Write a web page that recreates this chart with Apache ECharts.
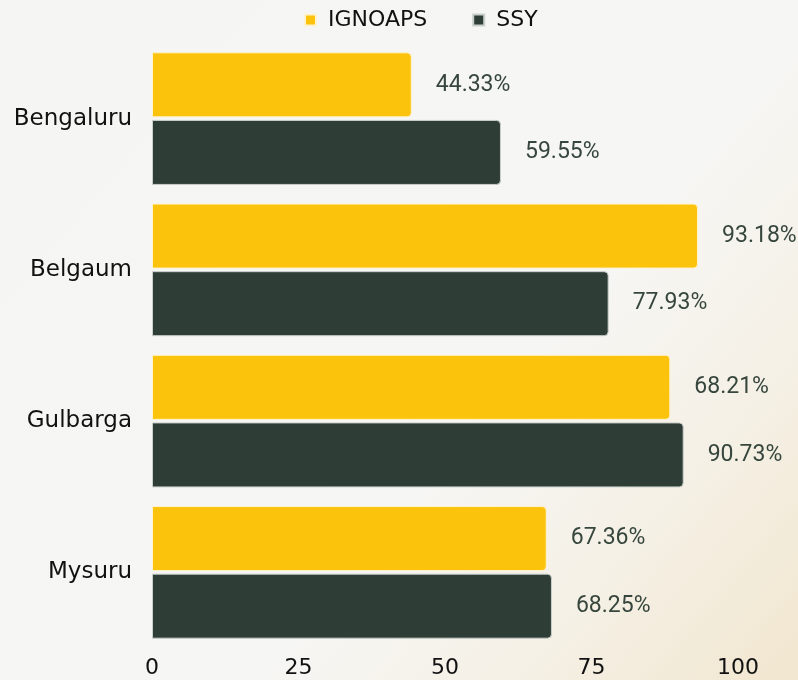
<!DOCTYPE html>
<html>
<head>
<meta charset="utf-8">
<script src="https://cdn.jsdelivr.net/npm/echarts@6/dist/echarts.min.js"></script>
<style>
  html, body { margin: 0; padding: 0; }
  #chart { width: 798px; height: 680px; }
</style>
</head>
<body>
<div id="chart"></div>
<script>
var cities = ["Bengaluru", "Belgaum", "Gulbarga", "Mysuru"];
// bar lengths as drawn in the picture
var ignoaps = [44.33, 93.18, 88.45, 67.36];
var ssy = [59.55, 77.93, 90.73, 68.25];
// value labels as printed in the picture
var ignoapsLabels = ["44.33%", "93.18%", "68.21%", "67.36%"];
var ssyLabels = ["59.55%", "77.93%", "90.73%", "68.25%"];
var xTicks = [0, 25, 50, 75, 100];

var myChart = echarts.init(document.getElementById("chart"));

function makeLabel(texts) {
  return {
    show: true,
    position: "right",
    distance: 24,
    color: "#36463d",
    fontFamily: "Roboto",
    fontSize: 23,
    formatter: function (p) { return texts[p.dataIndex]; }
  };
}

var option = {
  backgroundColor: {
    type: "linear", x: 0, y: 0, x2: 1, y2: 1,
    colorStops: [
      { offset: 0, color: "#f5f5f4" },
      { offset: 0.6, color: "#f6f6f4" },
      { offset: 0.8, color: "#f5f0e5" },
      { offset: 1, color: "#f1e6cf" }
    ]
  },
  textStyle: { fontFamily: "DejaVu Sans" },
  legend: {
    top: 4,
    left: 299,
    itemWidth: 11,
    itemHeight: 11,
    itemGap: 45,
    icon: "rect",
    textStyle: { fontSize: 22, color: "#111", fontFamily: "DejaVu Sans", padding: [0, 0, 0, 7] },
    data: ["IGNOAPS", "SSY"]
  },
  grid: { left: 152, right: 60, top: 43, bottom: 32 },
  xAxis: {
    type: "value",
    min: 0,
    max: 100,
    interval: 25,
    axisLine: { show: false },
    axisTick: { show: false },
    splitLine: { show: false },
    axisLabel: {
      color: "#111",
      fontSize: 22,
      margin: 9,
      formatter: function (v) { return xTicks.indexOf(v) >= 0 ? String(v) : ""; }
    }
  },
  yAxis: {
    type: "category",
    inverse: true,
    data: cities,
    axisLine: { show: false },
    axisTick: { show: false },
    axisLabel: { color: "#111", fontSize: 23, margin: 20 }
  },
  series: [
    {
      name: "IGNOAPS",
      type: "bar",
      data: ignoaps,
      barWidth: 65,
      barGap: "4%",
      itemStyle: { color: "#fbc30b", borderRadius: [0, 4, 4, 0], borderColor: "#fff3cf", borderWidth: 1 },
      label: makeLabel(ignoapsLabels)
    },
    {
      name: "SSY",
      type: "bar",
      data: ssy,
      barWidth: 65,
      itemStyle: { color: "#2e3d35", borderRadius: [0, 4, 4, 0], borderColor: "#c9cfcb", borderWidth: 1 },
      label: makeLabel(ssyLabels)
    }
  ]
};
myChart.setOption(option);
</script>
</body>
</html>
